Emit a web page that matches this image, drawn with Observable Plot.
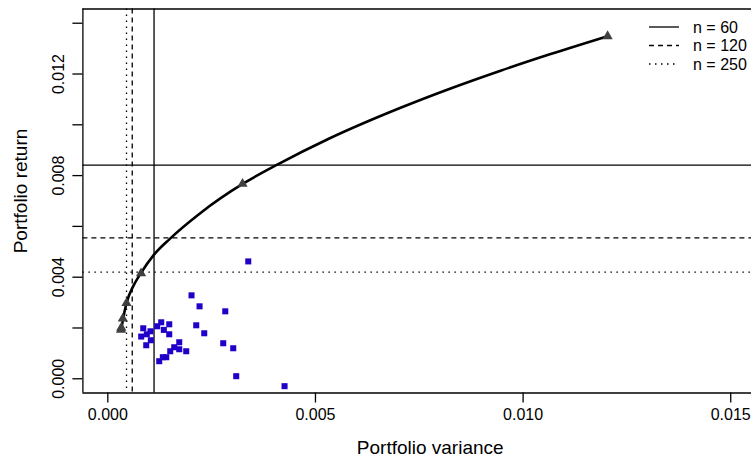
<!DOCTYPE html>
<html><head><meta charset="utf-8">
<script src="https://cdn.jsdelivr.net/npm/d3@7"></script>
<script src="https://cdn.jsdelivr.net/npm/@observablehq/plot@0.6"></script>
<style>
html,body{margin:0;padding:0;background:#fff;overflow:hidden}
#chart svg{display:block}
</style>
</head><body><div id="chart"></div>
<script>
// ---- data ----
const assetVar = [0.003382,0.002016,0.002209,0.002828,0.002129,0.002322,0.000853,0.001286,0.001479,0.001190,
  0.001349,0.001028,0.000939,0.000804,0.001479,0.001036,0.000925,0.001720,0.001599,0.001720,
  0.001888,0.001503,0.001407,0.001325,0.001238,0.002779,0.003020,0.003092,0.004256];
const assetRet = [0.004621,0.003285,0.002853,0.002656,0.002106,0.001792,0.001988,0.002224,0.002145,0.002067,
  0.001925,0.001870,0.001752,0.001662,0.001752,0.001517,0.001320,0.001438,0.001242,0.001163,
  0.001084,0.001084,0.000849,0.000849,0.000692,0.001399,0.001202,0.000102,-0.000291];

const frontierVar = [0.000323,0.000361,0.000450,0.000619,0.000800,0.001108,0.001493,0.002233,0.003256,
  0.004080,0.005308,0.007050,0.008254,0.009458,0.010662,0.012035];
const frontierRet = [0.001930,0.002300,0.002980,0.003666,0.004170,0.004880,0.005510,0.006530,0.007680,
  0.008430,0.009440,0.010670,0.011430,0.012130,0.012785,0.013490];

const markerVar = [0.000318,0.000325,0.000361,0.000450,0.000800,0.003244,0.012035];
const markerRet = [0.001930,0.002010,0.002370,0.002980,0.004150,0.007674,0.013489];

const seriesNames = ["n = 60", "n = 120", "n = 250"];
const thresholdVar = [0.001113, 0.000588, 0.000450];
const thresholdRet = [0.008409, 0.005551, 0.004197];

const xTicks = [0, 0.005, 0.010, 0.015];
const yTicks = [0, 0.002, 0.004, 0.006, 0.008, 0.010, 0.012, 0.014];
const yTickLabels = [0, 0.004, 0.008, 0.012];
const xTitle = "Portfolio variance";
const yTitle = "Portfolio return";

// ---- build tables ----
const assets = assetVar.map((v, i) => ({v, r: assetRet[i]}));
const frontier = frontierVar.map((v, i) => ({v, r: frontierRet[i]}));
const markers = markerVar.map((v, i) => ({v, r: markerRet[i]}));
const dashes = [null, "5,4", "1.5,4.5"];
const fmt = d3.format(".3f");
const xDomain = [-0.0006, 0.0155];
const yDomain = [-0.00056, 0.01456];
const FONT = "'Liberation Sans', Arial, Helvetica, sans-serif";

const marks = [];
seriesNames.forEach((name, i) => {
  marks.push(Plot.ruleX([thresholdVar[i]], {stroke: "#000", strokeWidth: 1.3, strokeDasharray: dashes[i]}));
  marks.push(Plot.ruleY([thresholdRet[i]], {stroke: "#000", strokeWidth: 1.3, strokeDasharray: dashes[i]}));
});
marks.push(
  Plot.ruleX([xDomain[0]], {stroke: "#000", strokeWidth: 1.3}),
  Plot.ruleY([yDomain[0]], {stroke: "#000", strokeWidth: 1.3}),
  Plot.ruleY([yDomain[1]], {stroke: "#000", strokeWidth: 1.3}),
  Plot.line(frontier, {x: "v", y: "r", curve: "monotone-x", stroke: "#000", strokeWidth: 2.6}),
  Plot.dot(markers, {x: "v", y: "r", symbol: "triangle", r: 3.8, fill: "#404040", stroke: "none"}),
  Plot.dot(assets, {x: "v", y: "r", symbol: "square", r: 3.4, fill: "#2000c8", stroke: "none"}),
  Plot.axisX({ticks: xTicks, tickSize: 10, tickPadding: 6, tickFormat: fmt, label: null, stroke: "#000", strokeWidth: 1.3, fill: "#000", fontSize: 16}),
  Plot.axisY({ticks: yTicks, tickSize: 10, tickFormat: () => "", label: null, stroke: "#000", strokeWidth: 1.3}),
  Plot.text(yTickLabels, {y: d => d, text: d => fmt(d), frameAnchor: "left", dx: -19, rotate: -90,
    textAnchor: "middle", lineAnchor: "bottom", fill: "#000", fontSize: 16}),
  Plot.text([xTitle], {text: d => d, frameAnchor: "bottom", dx: 13, dy: 54.5, textAnchor: "middle", lineAnchor: "middle", fill: "#000", fontSize: 19}),
  Plot.text([yTitle], {text: d => d, frameAnchor: "left", dx: -62, dy: -10, rotate: -90, textAnchor: "middle", lineAnchor: "middle", fill: "#000", fontSize: 19})
);

const chart = Plot.plot({
  width: 751, height: 458,
  marginLeft: 82.4, marginRight: 0, marginTop: 8.5, marginBottom: 65.5,
  x: {domain: xDomain},
  y: {domain: yDomain},
  style: {fontSize: "16px", fontFamily: FONT, background: "#fff", color: "#000"},
  marks
});

// legend (top-right, inside the plot region)
const svg = d3.select(chart);
const lg = svg.append("g").attr("font-family", FONT).attr("font-size", 16).attr("text-anchor", "start");
seriesNames.forEach((name, i) => {
  const y = 27 + i * 18.5;
  lg.append("line").attr("x1", 649).attr("x2", 679).attr("y1", y).attr("y2", y)
    .attr("stroke", "#000").attr("stroke-width", 1.3).attr("stroke-dasharray", dashes[i]);
  lg.append("text").attr("x", 693).attr("y", y).attr("dy", "0.35em").attr("fill", "#000")
    .attr("text-anchor", "start").text(name);
});

document.getElementById("chart").appendChild(chart);
</script>
</body></html>
